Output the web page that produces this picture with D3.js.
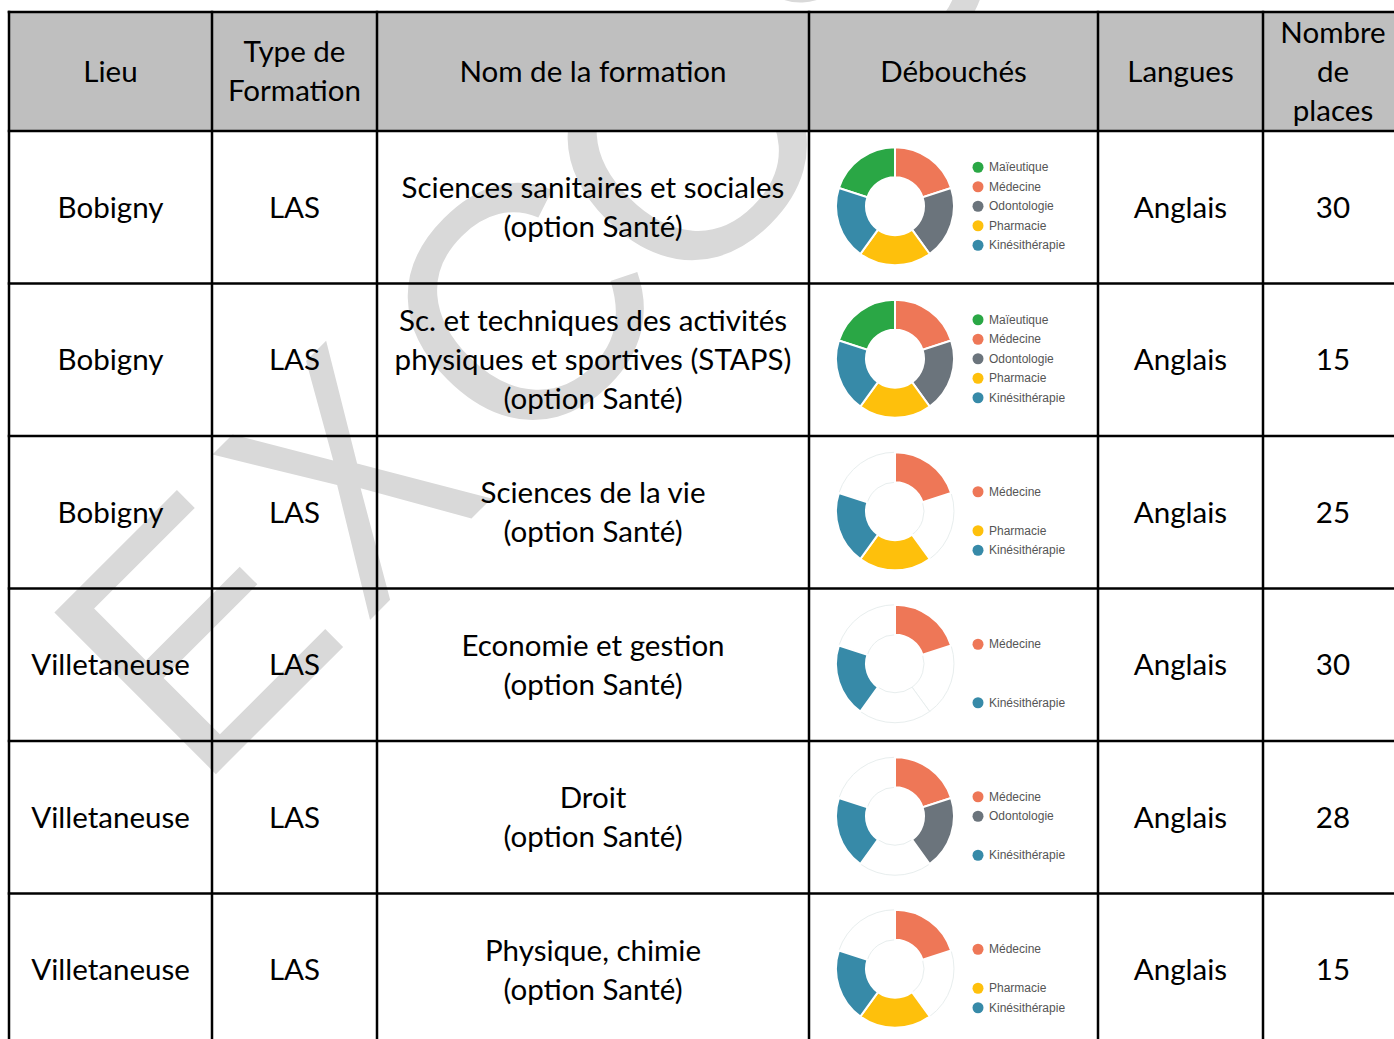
<!DOCTYPE html>
<html>
<head>
<meta charset="utf-8">
<script src="https://cdn.jsdelivr.net/npm/d3@7"></script>
<style>
  html, body { margin: 0; padding: 0; background: #fff; }
  svg { display: block; }
</style>
</head>
<body>
<svg id="chart" width="1394" height="1039"></svg>
<script>
// ---------- DATA ----------
const headers = [["Lieu"], ["Type de", "Formation"], ["Nom de la formation"], ["Débouchés"], ["Langues"], ["Nombre", "de", "places"]];
const lieux = ["Bobigny", "Bobigny", "Bobigny", "Villetaneuse", "Villetaneuse", "Villetaneuse"];
const types = ["LAS", "LAS", "LAS", "LAS", "LAS", "LAS"];
const formations = [
  ["Sciences sanitaires et sociales", "(option Santé)"],
  ["Sc. et techniques des activités", "physiques et sportives (STAPS)", "(option Santé)"],
  ["Sciences de la vie", "(option Santé)"],
  ["Economie et gestion", "(option Santé)"],
  ["Droit", "(option Santé)"],
  ["Physique, chimie", "(option Santé)"]
];
const langues = ["Anglais", "Anglais", "Anglais", "Anglais", "Anglais", "Anglais"];
const places = [30, 15, 25, 30, 28, 15];
const debouches = ["Maïeutique", "Médecine", "Odontologie", "Pharmacie", "Kinésithérapie"];
const debColors = ["#2aa745", "#ee7757", "#6b747c", "#fec00c", "#378aa8"];
const parts = [1, 1, 1, 1, 1];
const presence = [
  [1, 1, 1, 1, 1],
  [1, 1, 1, 1, 1],
  [0, 1, 0, 1, 1],
  [0, 1, 0, 0, 1],
  [0, 1, 1, 0, 1],
  [0, 1, 0, 1, 1]
];
const watermarkLetters = ["E", "X", "C", "O", "S"];

// ---------- LAYOUT ----------
const svg = d3.select("#chart");
const colEdges = [9, 212, 377, 809, 1098, 1263, 1403];
const tableTop = 12, headerBottom = 131, rowH = 152.5;
const nRows = lieux.length;
const y = d3.scaleLinear().domain([0, nRows]).range([headerBottom, headerBottom + nRows * rowH]);
const colCenter = i => (colEdges[i] + colEdges[i + 1]) / 2;
const color = d3.scaleOrdinal().domain(debouches).range(debColors);

// font calibration (Calibri-like width using Lato)
const probe = svg.append("text").attr("font-family", "Lato").attr("font-size", 32).text("Sciences sanitaires et sociales");
const pw = probe.node().getComputedTextLength();
probe.remove();
const fs = 32 * 383 / pw;
const lineH = 39;

// ---------- WATERMARK ----------
// letter positions along the rotated baseline (E: left edge, others: centre) and horizontal squeeze
const wmPos = [-26, 305, 547, 783, 1030];
const wmSqueeze = [1, 0.83, 1, 1, 1];
const wg = svg.append("g").attr("transform", "translate(215,775) rotate(-45)");
watermarkLetters.forEach((ch, i) => {
  wg.append("g")
    .attr("transform", `translate(${wmPos[i]},0) scale(${wmSqueeze[i]},1)`)
    .append("text")
    .attr("x", 0)
    .attr("y", 0)
    .attr("text-anchor", i === 0 ? "start" : "middle")
    .attr("font-family", "Liberation Sans, Arial, sans-serif")
    .attr("font-size", 332)
    .attr("fill", "#d9d9d9")
    .text(ch);
});

// ---------- HEADER ----------
svg.append("rect")
  .attr("x", colEdges[0]).attr("y", tableTop)
  .attr("width", colEdges[colEdges.length - 1] - colEdges[0])
  .attr("height", headerBottom - tableTop)
  .attr("fill", "#bfbfbf");

function cellText(lines, cx, cy) {
  const n = lines.length;
  const g = svg.append("g");
  lines.forEach((t, i) => {
    g.append("text")
      .attr("x", cx)
      .attr("y", cy + 0.342 * 32 + (i - (n - 1) / 2) * lineH - 0.5)
      .attr("text-anchor", "middle")
      .attr("font-family", "Lato, sans-serif")
      .attr("font-size", fs)
      .attr("fill", "#000")
      .text(t);
  });
}

headers.forEach((h, i) => cellText(h, colCenter(i), (tableTop + headerBottom) / 2));

// ---------- ROWS ----------
const pie = d3.pie().sort(null).startAngle(-2 * Math.PI / 5).endAngle(2 * Math.PI - 2 * Math.PI / 5);
const arc = d3.arc().innerRadius(29).outerRadius(59);

for (let r = 0; r < nRows; r++) {
  const cy = (y(r) + y(r + 1)) / 2;
  cellText([lieux[r]], colCenter(0), cy);
  cellText([types[r]], colCenter(1), cy);
  cellText(formations[r], colCenter(2), cy);
  cellText([langues[r]], colCenter(4), cy);
  cellText([String(places[r])], colCenter(5), cy);

  // donut cell
  const x0 = colEdges[3];
  svg.append("rect")
    .attr("x", x0 + 1).attr("y", y(r) + 1)
    .attr("width", colEdges[4] - x0 - 2).attr("height", rowH - 2)
    .attr("fill", "#fff");
  const dcx = x0 + 86, dcy = cy - 1;
  const g = svg.append("g").attr("transform", `translate(${dcx},${dcy})`);
  const arcs = pie(parts).map((a, i) => ({ ...a, name: debouches[i], on: presence[r][i] }));
  g.selectAll("path.off").data(arcs.filter(d => !d.on)).join("path")
    .attr("class", "off").attr("d", arc)
    .attr("fill", "#fff").attr("stroke", "#e8eeee").attr("stroke-width", 1);
  g.selectAll("path.on").data(arcs.filter(d => d.on)).join("path")
    .attr("class", "on").attr("d", arc)
    .attr("fill", d => color(d.name)).attr("stroke", "#fff").attr("stroke-width", 2);

  // legend
  const lg = svg.append("g").attr("transform", `translate(${x0 + 169},${dcy})`);
  debouches.forEach((name, i) => {
    if (!presence[r][i]) return;
    const ly = (i - 2) * 19.5;
    lg.append("circle").attr("cx", 0).attr("cy", ly).attr("r", 5.5).attr("fill", color(name));
    lg.append("text").attr("x", 11).attr("y", ly).attr("dy", "0.35em")
      .attr("font-family", "Liberation Sans, Arial, sans-serif")
      .attr("font-size", 12).attr("fill", "#555").text(name);
  });
}

// ---------- GRID ----------
const bottom = y(nRows);
const hLines = [tableTop, headerBottom, ...d3.range(1, nRows + 1).map(y)];
svg.append("g").selectAll("line").data(hLines).join("line")
  .attr("x1", colEdges[0] - 1.25).attr("x2", colEdges[colEdges.length - 1])
  .attr("y1", d => d).attr("y2", d => d)
  .attr("stroke", "#000").attr("stroke-width", 2.5);
svg.append("g").selectAll("line").data(colEdges).join("line")
  .attr("x1", d => d).attr("x2", d => d)
  .attr("y1", tableTop - 1.25).attr("y2", bottom)
  .attr("stroke", "#000").attr("stroke-width", 2.5);
</script>
</body>
</html>
